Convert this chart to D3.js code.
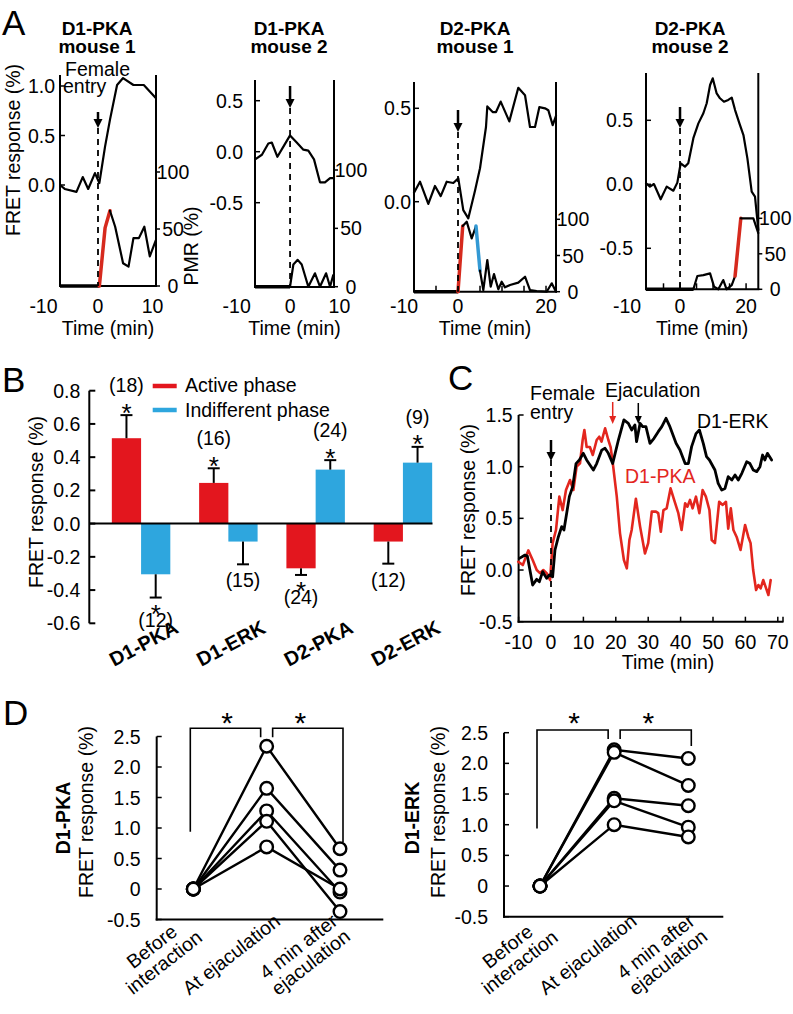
<!DOCTYPE html>
<html><head><meta charset="utf-8">
<script src="https://cdn.jsdelivr.net/npm/d3@7"></script>
<style>
body{margin:0;background:#fff;}
text{font-family:"Liberation Sans",Arial,Helvetica,sans-serif;}
</style></head><body><script>
// ================= DATA =================
// ---- Panel A ----
const aTitles=[["D1-PKA","mouse 1"],["D1-PKA","mouse 2"],["D2-PKA","mouse 1"],["D2-PKA","mouse 2"]];
const aXTicks=[[-10,0,10],[-10,0,10],[-10,0,20],[-10,0,20]];
const aFretTicks=[[0,0.5,1.0],[-0.5,0,0.5],[0,0.5],[-0.5,0,0.5]];
const aPmrTicks=[0,50,100];
// A1
const a1FretT=[-6.97,-6.1,-3.95,-2.8,-1.8,-0.56,0.25,1.3,2.2,3.5,4.6,6.5,8.4,10.6];
const a1FretV=[0.0,-0.04,-0.07,0.08,-0.04,0.12,0.02,0.39,0.66,1.01,1.08,1.01,1.01,0.88];
const a1BaseEnd=0.25;
const a1ActiveT=[0.25,1.3,2.2], a1ActiveP=[0,51,66];
const a1PmrT=[2.2,3.15,4.6,5.6,6.5,7.5,8.5,9.5,10.6], a1PmrP=[66,52,20,17,42,42,52,26,40];
// A2
const a2FretT=[-7.07,-5.7,-4.4,-3.7,-2.56,-1.35,0,1.35,2.7,3.7,4.85,6.06,7.07,8.1,8.9];
const a2FretV=[-0.075,-0.03,0.08,0.09,-0.05,0.05,0.16,0.09,0.02,0.01,-0.075,-0.30,-0.30,-0.26,-0.26];
const a2BaseEnd=0;
const a2PmrT=[0,0.67,1.55,2.36,3.7,5.05,6.06,7.3,8.1,8.75], a2PmrP=[0,19,23,19,0,11.5,0,11.5,0,10];
// A3
const a3FretT=[-10.0,-8.64,-6.75,-5.23,-3.93,-2.57,-1.07,0.07,1.2,2.34,3.86,5.0,6.36,6.66,7.88,8.64,9.7,11.66,13.7,15.23,16.36,17.5,18.48,19.77,20.52,21.52,22.27];
const a3FretV=[0.048,0.107,-0.012,0.084,0.03,0.107,0.10,0.125,-0.045,-0.089,0.059,0.179,0.40,0.51,0.48,0.48,0.536,0.43,0.61,0.57,0.40,0.40,0.506,0.50,0.49,0.41,0.46];
const a3BaseEnd=0;
const a3ActiveT=[0,1.07], a3ActiveP=[0,90.7];
const a3Pmr1T=[1.07,1.98,3.11,4.09], a3Pmr1P=[90.7,96.7,73.7,90.7];
const a3IndiffT=[4.09,5.0], a3IndiffP=[90.7,29];
const a3Pmr2T=[5.0,5.75,6.66,7.43,8.18,9.16,9.93,10.68,11.82,13.7,15.23,16.36,17.89,20.16,21.3,22.27];
const a3Pmr2P=[29,2.3,43.8,7,24.4,3.3,13.8,6,9.2,12.5,20.7,2.3,1,0,11.6,0];
// A4
const a4FretT=[-10.3,-9.1,-7.9,-5.86,-4.04,-2.02,-0.81,0.2,1.5,2.5,4.04,5.56,7.07,8.08,9.1,9.9,11.1,12.1,13.3,14.6,15.66,16.67,17.98,19.2,20.4,21.7,22.7,23.7];
const a4FretV=[0.008,-0.018,0.002,-0.117,-0.018,-0.05,0.013,0.164,0.138,0.164,0.36,0.476,0.555,0.633,0.776,0.828,0.71,0.672,0.645,0.659,0.677,0.58,0.476,0.385,0.203,-0.058,-0.097,-0.357];
const a4BaseEnd=4.04;
const a4Pmr1T=[4.04,5.25,7.07,9.1,10.3,11.6,13.1,14.1,15.66,16.67], a4Pmr1P=[0,18.7,20,22.5,3.7,0,13,0,6,18.7];
const a4ActiveT=[16.67,18.4], a4ActiveP=[18.7,100];
const a4Pmr2T=[18.4,22.2,23.7], a4Pmr2P=[100,100,79];

// ---- Panel B ----
const bCats=["D1-PKA","D1-ERK","D2-PKA","D2-ERK"];
const bActive=[0.514,0.245,-0.269,-0.108];
const bActiveErr=[0.139,0.088,0.040,0.133];
const bIndiff=[-0.305,-0.108,0.325,0.367];
const bIndiffErr=[0.140,0.137,0.057,0.095];
const bActiveN=[18,16,24,12];
const bIndiffN=[12,15,24,9];
const bActiveSig=[true,true,true,false];
const bIndiffSig=[true,false,true,true];
const bTicks=[-0.6,-0.4,-0.2,0.0,0.2,0.4,0.6,0.8];
const bSeries=["Active phase","Indifferent phase"];

// ---- Panel C ----
const cXTicks=[-10,0,10,20,30,40,50,60,70];
const cYTicks=[-0.5,0.0,0.5,1.0,1.5];
const cErkT=[-9.77,-8.02,-7.3,-5.66,-4.42,-3.6,-2.57,-1.34,-0.51,0.51,1.23,2.26,3.29,4.0,4.84,5.66,6.69,7.72,8.75,9.98,11.0,13.07,14.1,15.64,16.67,17.7,19.03,20.8,22.5,23.87,24.9,25.9,26.4,27.5,28.3,29.3,30.55,31.8,33.1,34.2,35.5,36.7,38.6,39.8,41.4,42.4,43.4,44.75,45.8,47.0,48.0,48.9,50.6,51.6,52.7,53.7,54.7,55.8,56.8,57.8,58.9,60.4,61.4,62.4,63.5,64.5,65.3,66.0,66.8,68.1];
const cErkV=[0.113,0.145,0.135,-0.145,-0.09,-0.113,-0.016,-0.08,-0.048,-0.065,0.194,0.32,0.42,0.387,0.55,0.71,0.806,1.03,1.065,1.129,1.065,0.968,1.03,1.16,1.178,1.129,1.03,1.258,1.452,1.42,1.355,1.404,1.242,1.42,1.387,1.387,1.226,1.274,1.339,1.387,1.468,1.387,1.226,1.162,1.03,1.03,1.194,1.32,1.355,1.226,1.097,1.065,0.968,0.839,0.774,0.79,0.903,0.871,0.92,0.871,0.936,1.048,1.03,0.968,0.952,1.0,1.113,1.065,1.129,1.065];
const cPkaT=[-10.1,-8.7,-7.0,-5.66,-4.4,-3.4,-2.37,-1.34,-0.3,0.5,1.54,2.57,3.6,4.63,5.86,6.9,7.9,8.95,9.77,10.3,11.0,12.0,12.9,14.1,14.9,15.6,16.7,17.7,18.4,19.2,20.3,21.3,22.5,23.4,24.2,24.9,26.2,27.5,29.0,30.0,31.1,32.4,33.1,33.9,34.7,35.7,36.9,38.0,39.3,40.3,41.4,42.1,42.9,43.7,44.75,45.8,46.8,47.8,48.9,49.6,50.6,51.9,53.0,54.0,54.7,55.5,56.3,57.3,58.5,59.9,60.9,61.6,62.4,63.3,64.0,64.7,65.5,66.4,67.1,67.8];
const cPkaV=[0.08,0.048,0.19,0.097,0,-0.03,0,-0.03,-0.097,0.26,0.387,0.71,0.58,0.774,0.871,0.774,1.0,1.033,1.258,1.355,1.19,1.19,1.113,1.258,1.29,1.242,1.372,1.258,1.19,1.0,0.71,0.355,0.097,0.016,0.29,0.387,0.69,0.42,0.16,0.26,0.565,0.565,0.55,0.37,0.58,0.597,0.79,0.678,0.55,0.387,0.646,0.613,0.678,0.597,0.71,0.55,0.774,0.71,0.58,0.29,0.26,0.66,0.63,0.66,0.40,0.597,0.387,0.32,0.194,0.436,0.32,0.26,0,-0.194,-0.145,-0.177,-0.097,-0.177,-0.242,-0.097];

// ---- Panel D ----
const dCats=[["Before","interaction"],["At ejaculation"],["4 min after","ejaculation"]];
const dYTicks=[-0.5,0,0.5,1.0,1.5,2.0,2.5];
const dPka=[[0,2.34,0.66],[0,1.65,0.31],[0,1.28,-0.05],[0,1.11,-0.37],[0,0.69,0.0]];
const dErk=[[0,2.22,2.08],[0,2.18,1.64],[0,1.43,1.31],[0,1.39,0.96],[0,1.0,0.8]];

// ================= DRAW =================
const W=793,H=1014,FS=19.5;
const RED="#e3161e", BLUE="#2ea6de", ARED="#d62a1e", ABLUE="#3399d4", CRED="#e3261e";
const svg=d3.select("body").append("svg").attr("width",W).attr("height",H);
svg.append("rect").attr("width",W).attr("height",H).attr("fill","#fff");

function T(g,x,y,s,o={}){
  const t=g.append("text").attr("x",x).attr("y",y).text(s)
    .attr("font-size",o.fs||FS).attr("fill",o.fill||"#000")
    .attr("text-anchor",o.anchor||"start");
  if(o.bold) t.attr("font-weight","bold");
  if(o.rot!=null) t.attr("transform",`rotate(${o.rot},${x},${y})`);
  return t;
}
function TM(g,lines,o={}){
  const t=g.append("text").attr("font-size",o.fs||FS).attr("fill",o.fill||"#000")
    .attr("text-anchor",o.anchor||"start");
  if(o.bold) t.attr("font-weight","bold");
  lines.forEach(l=>{ const s=t.append("tspan").attr("x",l[0]).attr("y",l[1]).text(l[2]); if(l[3]) s.attr("font-size",l[3]); });
  return t;
}
function L(g,x1,y1,x2,y2,w=2,c="#000",dash=null){
  const l=g.append("line").attr("x1",x1).attr("y1",y1).attr("x2",x2).attr("y2",y2)
    .attr("stroke",c).attr("stroke-width",w);
  if(dash) l.attr("stroke-dasharray",dash);
  return l;
}
function arrow(g,x,y1,y2,c="#000",w=2.5,hw=4.5,hl=9){
  L(g,x,y1,x,y2-hl+1,w,c);
  g.append("path").attr("d",`M${x-hw},${y2-hl}L${x+hw},${y2-hl}L${x},${y2}Z`).attr("fill",c);
}
function path(g,xs,ys,tt,vv,c,w){
  const line=d3.line().x(i=>xs(tt[i])).y(i=>ys(vv[i])).curve(d3.curveLinear);
  g.append("path").attr("d",line(d3.range(tt.length))).attr("fill","none")
   .attr("stroke",c).attr("stroke-width",w).attr("stroke-linejoin","round").attr("stroke-linecap","round");
}
const f1=v=>v.toFixed(1).replace(/^-0\.0$/,"0.0");

// ---------- Panel A ----------
const gA=svg.append("g");
T(gA,2,35,"A",{fs:35});
const aLay=[
 {x0:60,x1:156,t:[-6.97,10.64],yTop:75,yBot:286,fr:[0,1,185,86],pm:[286,172],gap:5,arr:[112,128],title:97,minor:false,neg:0},
 {x0:255,x1:334,t:[-7.1,8.9],yTop:80,yBot:287,fr:[0,0.5,151.7,100.7],pm:[286.7,170],gap:12,arr:[86,108],title:289,minor:false,neg:-4},
 {x0:414,x1:556,t:[-10,22.27],yTop:82,yBot:291.7,fr:[0,0.5,201.7,108.3],pm:[291.7,219.3],gap:3,arr:[110,132],title:475,minor:true,neg:-10},
 {x0:646,x1:758.3,t:[-10.3,23.7],yTop:73,yBot:289.3,fr:[0,0.5,184.3,120.3],pm:[289.3,218.3],gap:13,arr:[107,128],title:690,minor:true,neg:-20}
];
const aFret=[[a1FretT,a1FretV],[a2FretT,a2FretV],[a3FretT,a3FretV],[a4FretT,a4FretV]];
const aBase=[a1BaseEnd,a2BaseEnd,a3BaseEnd,a4BaseEnd];
const aSegs=[
 [[a1ActiveT,a1ActiveP,ARED,3.5],[a1PmrT,a1PmrP,"#000",2.2]],
 [[a2PmrT,a2PmrP,"#000",2.2]],
 [[a3ActiveT,a3ActiveP,ARED,3.5],[a3Pmr1T,a3Pmr1P,"#000",2.2],[a3IndiffT,a3IndiffP,ABLUE,3.5],[a3Pmr2T,a3Pmr2P,"#000",2.2]],
 [[a4Pmr1T,a4Pmr1P,"#000",2.2],[a4ActiveT,a4ActiveP,ARED,3.5],[a4Pmr2T,a4Pmr2P,"#000",2.2]]
];
aLay.forEach((c,i)=>{
  const g=gA.append("g");
  const x=d3.scaleLinear().domain(c.t).range([c.x0,c.x1]);
  const yF=d3.scaleLinear().domain([c.fr[0],c.fr[1]]).range([c.fr[2],c.fr[3]]);
  const yP=d3.scaleLinear().domain([0,100]).range(c.pm);
  TM(g,[[c.title,35,aTitles[i][0]],[c.title,53,aTitles[i][1]]],{bold:true,anchor:"middle",fs:19});
  L(g,c.x0,c.yTop,c.x0,c.yBot,2);
  L(g,c.x1,c.yTop,c.x1,c.yBot,2);
  L(g,c.x0-1,c.yBot,c.x1+1,c.yBot,2);
  aFretTicks[i].forEach(v=>{
    L(g,c.x0,yF(v),c.x0+5,yF(v),1.5);
    T(g,c.x0-c.gap,yF(v)+7,f1(v),{anchor:"end"});
  });
  aPmrTicks.forEach(p=>{
    L(g,c.x1,yP(p),c.x1+4,yP(p),1.5);
    T(g,c.x1+17,yP(p)+7,String(p),{anchor:"middle"});
  });
  aXTicks[i].forEach(t=>T(g,x(t)+(t<0?c.neg:0),313,String(t),{anchor:"middle"}));
  if(c.minor){ d3.range(-5,c.t[1],5).forEach(t=>{ if(x(t)>c.x0+2 && x(t)<c.x1-2) L(g,x(t),c.yBot,x(t),c.yBot-6,1.5); }); }
  T(g,(c.x0+c.x1)/2,335,"Time (min)",{anchor:"middle"});
  L(g,x(c.t[0]),yP(0),x(aBase[i]),yP(0),3.5);
  aSegs[i].forEach(s=>path(g,x,yP,s[0],s[1],s[2],s[3]));
  path(g,x,yF,aFret[i][0],aFret[i][1],"#000",2.2);
  L(g,x(0),c.arr[1],x(0),c.yBot,1.8,"#000","6,5");
  arrow(g,x(0),c.arr[0],c.arr[1]);
});
TM(gA,[[65,76,"Female"],[63,93,"entry"]]);
T(gA,20,150,"FRET response (%)",{anchor:"middle",rot:-90});
T(gA,198,246,"PMR (%)",{anchor:"middle",rot:-90});

// ---------- Panel B ----------
const gB=svg.append("g");
T(gB,2,392,"B",{fs:35});
const yB=d3.scaleLinear().domain([-0.6,0.8]).range([623.3,390.7]);
const xB=d3.scaleBand().domain(bCats).range([97,447]).paddingInner(0.33).paddingOuter(0.17);
const bw=xB.bandwidth()/2;
const axB=89.3;
L(gB,axB,yB(0.8),axB,yB(-0.6),2);
bTicks.forEach(v=>{ L(gB,axB,yB(v),axB+6,yB(v),2); T(gB,axB-9,yB(v)+7,f1(v),{anchor:"end"}); });
T(gB,42.5,502,"FRET response (%)",{anchor:"middle",rot:-90});
function bars(vals,errs,ns,sig,off,col){
  bCats.forEach((c,i)=>{
    const v=vals[i], x0=xB(c)+off, cx=x0+bw/2;
    gB.append("rect").attr("x",x0).attr("width",bw)
      .attr("y",Math.min(yB(v),yB(0))).attr("height",Math.abs(yB(v)-yB(0))).attr("fill",col);
    const e=v>=0? v+errs[i] : v-errs[i];
    L(gB,cx,yB(v),cx,yB(e),2);
    L(gB,cx-6,yB(e),cx+6,yB(e),2);
    const lines=[];
    if(v>=0){
      lines.push([cx,yB(e)-(sig[i]?23:12),`(${ns[i]})`]);
      if(sig[i]) lines.push([cx,yB(e)-9+15.5,"*",26]);
    } else {
      if(sig[i]) lines.push([cx,yB(e)+9.5+15.5,"*",26]);
      lines.push([cx,yB(e)+(sig[i]?29:23),`(${ns[i]})`]);
    }
    TM(gB,lines,{anchor:"middle"});
  });
}
bars(bActive,bActiveErr,bActiveN,bActiveSig,0,RED);
bars(bIndiff,bIndiffErr,bIndiffN,bIndiffSig,bw,BLUE);
L(gB,axB,yB(0),xB.range()[1]-14.5,yB(0),2);
[[RED,386,392],[BLUE,410,417]].forEach((d,i)=>{
  L(gB,152.7,d[1],176.7,d[1],4.5,d[0]);
  T(gB,185,d[2],bSeries[i]);
});
bCats.forEach(c=>{
  const x0=xB(c)+bw-27;
  T(gB,x0,667,c,{bold:true,fs:20,rot:-28});
});

// ---------- Panel C ----------
const gC=svg.append("g");
T(gC,448,390,"C",{fs:35});
const xC=d3.scaleLinear().domain([-10,70]).range([518.6,777.8]);
const yC=d3.scaleLinear().domain([-0.5,1.5]).range([621.7,415]);
L(gC,xC(-10),yC(1.5),xC(-10),yC(-0.5)+1,2);
L(gC,xC(-10)-1,yC(-0.5),783.5,yC(-0.5),2);
cYTicks.forEach(v=>{ L(gC,xC(-10),yC(v),xC(-10)+5,yC(v),1.5); T(gC,512.7,yC(v)+7,f1(v),{anchor:"end"}); });
cXTicks.forEach(t=>{ L(gC,xC(t),yC(-0.5),xC(t),yC(-0.5)-5,1.5); T(gC,xC(t),649,String(t),{anchor:"middle"}); });
L(gC,783,yC(-0.5),783,yC(-0.5)-5,1.5);
T(gC,668,669,"Time (min)",{anchor:"middle"});
T(gC,475,510,"FRET response (%)",{anchor:"middle",rot:-90});
path(gC,xC,yC,cPkaT,cPkaV,CRED,2.6);
path(gC,xC,yC,cErkT,cErkV,"#000",2.8);
L(gC,xC(0),460,xC(0),yC(-0.5),1.8,"#000","6,5");
arrow(gC,xC(0),440,461);
arrow(gC,612.7,402,424,CRED,1.5,3.5,8);
arrow(gC,638.3,403,424,"#000",1.5,3.5,8);
TM(gC,[[530,400,"Female"],[530,419,"entry"]]);
T(gC,605,397,"Ejaculation");
T(gC,697,428,"D1-ERK");
T(gC,625,483,"D1-PKA",{fill:CRED});

// ---------- Panel D ----------
const gD=svg.append("g");
T(gD,3,725,"D",{fs:35});
function dPanel(data,o){
  const g=gD.append("g");
  const x=d3.scalePoint().domain([0,1,2]).range(o.xr);
  const y=d3.scaleLinear().domain([-0.5,2.5]).range(o.yr);
  L(g,o.ax,y(2.5),o.ax,y(-0.5)+1,2);
  L(g,o.ax-1,y(-0.5),o.xEnd,y(-0.5),2);
  dYTicks.forEach(v=>{ L(g,o.ax,y(v),o.ax+5,y(v),1.5); T(g,o.ax-16,y(v)+7,v===0?"0":v.toFixed(1),{anchor:"end"}); });
  T(g,o.lab1,812,"FRET response (%)",{anchor:"middle",rot:-90});
  T(g,o.lab0,818,o.name,{anchor:"middle",rot:-90,bold:true});
  data.forEach(r=>{
    g.append("path").attr("d",d3.line().x((d,i)=>x(i)).y(d=>y(d))(r))
     .attr("fill","none").attr("stroke","#000").attr("stroke-width",2.4);
  });
  data.forEach(r=>r.forEach((v,i)=>{
    g.append("circle").attr("cx",x(i)).attr("cy",y(v)).attr("r",6.3)
     .attr("fill","#fff").attr("stroke","#000").attr("stroke-width",2.4);
  }));
  const bt=o.bt;
  g.append("path").attr("d",`M${x(0)-3},${y(0.94)}V${bt}H${x(1)-6}V${bt+9}`).attr("fill","none").attr("stroke","#000").attr("stroke-width",1.6);
  g.append("path").attr("d",`M${x(1)+6},${bt+9}V${bt}H${x(2)+3}V${o.r2}`).attr("fill","none").attr("stroke","#000").attr("stroke-width",1.6);
  T(g,(x(0)+x(1))/2-3,733,"*",{anchor:"middle",fs:30});
  T(g,(x(1)+x(2))/2-3,733,"*",{anchor:"middle",fs:30});
  dCats.forEach((lines,i)=>{
    const grp=g.append("g").attr("transform",`translate(${x(i)+o.ldx},955) rotate(-38)`);
    const n=lines.length;
    TM(grp,lines.map((s,k)=>[0,(k-(n-1)/2)*20+6,s]),{anchor:"middle"});
  });
}
dPanel(dPka,{xr:[193.3,340],yr:[919.5,736.5],ax:156.7,xEnd:383.3,lab1:93,lab0:70,name:"D1-PKA",bt:728.3,r2:842,ldx:-35});
dPanel(dErk,{xr:[540,688.3],yr:[916.7,732.7],ax:504,xEnd:723.3,lab1:445,lab0:418.7,name:"D1-ERK",bt:730,r2:746,ldx:-26});
</script></body></html>
